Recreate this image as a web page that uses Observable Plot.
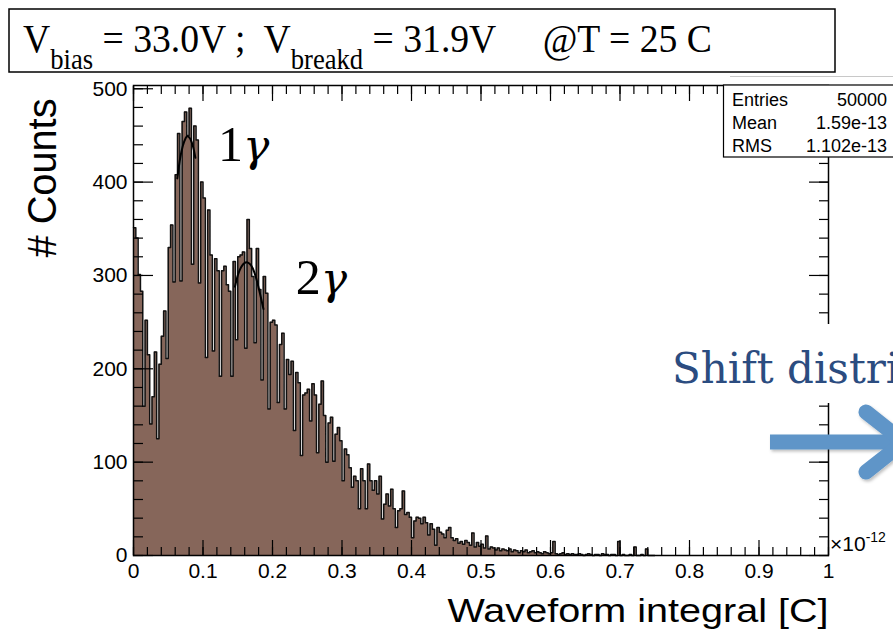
<!DOCTYPE html>
<html><head><meta charset="utf-8">
<script src="https://cdn.jsdelivr.net/npm/d3@7"></script>
<script src="https://cdn.jsdelivr.net/npm/@observablehq/plot@0.6"></script>
<style>
html,body{margin:0;padding:0;background:#fff;overflow:hidden}
#wrap{position:relative;width:893px;height:635px;overflow:hidden;background:#fff}
#wrap > svg{position:absolute;left:0;top:0}
</style></head>
<body><div id="wrap"></div>
<script>
// ---- data ----
const binWidth = 1 / 300; // x in units of 1e-12 C
const counts = [
351,340,301,283,160,252,215,141,170,218,125,205,235,262,211,330,354,293,408,452,
294,465,475,450,479,312,460,445,292,400,383,212,370,322,219,318,305,192,305,310,
290,283,192,315,231,320,322,325,222,360,329,299,228,329,285,188,299,281,157,250,
252,247,164,226,238,157,210,194,208,134,196,185,107,172,174,178,144,184,172,110,
162,187,150,100,142,148,101,130,137,123,80,114,108,94,73,85,80,50,93,80,
50,98,80,70,80,66,85,39,55,66,53,71,50,30,48,50,69,44,46,41,
19,37,41,40,34,41,35,22,34,28,11,30,25,23,19,27,30,19,16,18,
13,15,12,16,14,11,24,9,14,10,12,8,21,7,9,8,6,8,5,7,
6,5,7,4,6,5,3,5,4,6,3,4,5,3,4,3,2,4,3,2,
3,15,2,1,2,3,1,2,1,2,1,1,2,1,0,1,2,1,0,1,
1,0,2,1,1,0,1,1,0,15,0,1,0,0,1,0,9,0,0,1,
0,7,0,0,0
];
const fit1X = [0.063,0.067,0.071,0.075,0.078,0.082,0.086,0.089];
const fit1Y = [404,425,439,447,449,446,437,426];
const fit2X = [0.146,0.150,0.155,0.160,0.164,0.169,0.174,0.179,0.184,0.187];
const fit2Y = [288,300,309,313.5,314,311,303,290,274,264];
const peakNum = ["1","2"];
const peakX = [0.1215,0.2335];
const peakY = [423,280];
const xMajor = [0,0.1,0.2,0.3,0.4,0.5,0.6,0.7,0.8,0.9,1];
const xTickLabels = ["0","0.1","0.2","0.3","0.4","0.5","0.6","0.7","0.8","0.9","1"];
const yMajor = [0,100,200,300,400,500];
const yTickLabels = ["0","100","200","300","400","500"];
const statNames = ["Entries","Mean","RMS"];
const statValues = ["50000","1.59e-13","1.102e-13"];

// ---- build tables ----
const bins = counts.map((c, i) => ({x: i * binWidth, count: c}));
bins.push({x: counts.length * binWidth, count: counts[counts.length - 1]});
const fit1 = fit1X.map((x, i) => ({x, y: fit1Y[i]}));
const fit2 = fit2X.map((x, i) => ({x, y: fit2Y[i]}));
const peaks = peakNum.map((t, i) => ({text: t + "γ", x: peakX[i], y: peakY[i]}));
const xMinor = d3.range(0, 51).map(i => i / 50);
const yMinor = d3.range(0, 26).map(i => i * 20);

const FILL = "#86665a";
const axisTicks = (scale, vals, anchor, size) =>
  (scale === "x" ? Plot.axisX : Plot.axisY)(vals, {anchor, tickSize: -size, fill: "none", stroke: "black", strokeWidth: 1.2, label: null});

const chart = Plot.plot({
  width: 893, height: 635,
  marginLeft: 133, marginRight: 65, marginTop: 85, marginBottom: 80,
  x: {domain: [0, 1]},
  y: {domain: [0, 503.5]},
  style: {fontFamily: "Liberation Sans, Arial, sans-serif", background: "white", color: "black", overflow: "visible"},
  marks: [
    Plot.areaY(bins, {x: "x", y: "count", curve: "step-after", fill: FILL}),
    Plot.lineY(bins, {x: "x", y: "count", curve: "step-after", stroke: "#111", strokeWidth: 1.5}),
    Plot.line(fit1, {x: "x", y: "y", curve: "natural", stroke: "black", strokeWidth: 2}),
    Plot.line(fit2, {x: "x", y: "y", curve: "natural", stroke: "black", strokeWidth: 2}),
    Plot.text(peaks, {x: "x", y: "y", text: "text", textAnchor: "start", lineAnchor: "top", dy: -0.71 * 50,
      fontSize: 50, fontFamily: "Liberation Serif, serif", fill: "black"}),
    Plot.frame({stroke: "black", strokeWidth: 1.5}),
    axisTicks("y", yMajor, "left", 20),
    axisTicks("y", yMinor, "left", 10),
    axisTicks("y", yMajor, "right", 20),
    axisTicks("y", yMinor, "right", 10),
    axisTicks("x", xMajor, "bottom", 15),
    axisTicks("x", xMinor, "bottom", 8),
    axisTicks("x", xMajor, "top", 15),
    axisTicks("x", xMinor, "top", 8),
    Plot.axisY(yMajor, {anchor: "left", tickSize: 0, tickPadding: 6, fontSize: 21, label: null, fill: "black",
      tickFormat: d => yTickLabels[yMajor.indexOf(d)]}),
    Plot.axisX(xMajor, {anchor: "bottom", tickSize: 0, tickPadding: 8, fontSize: 21, label: null, fill: "black",
      tickFormat: d => xTickLabels[xMajor.indexOf(d)]}),
    Plot.text(["Waveform integral [C]"], {frameAnchor: "bottom-right", textAnchor: "end", lineAnchor: "top", dy: 43, fontSize: 33, fill: "black"}),
    Plot.text(["# Counts"], {frameAnchor: "top-left", rotate: -90, textAnchor: "end", lineAnchor: "middle", dx: -90, dy: 13, fontSize: 40, fill: "black"})
  ]
});

const wrap = document.getElementById("wrap");
wrap.appendChild(chart);

// fit axis-label lengths; italic gamma in peak labels
d3.select(chart).selectAll("text").each(function () {
  const s = this.textContent;
  const sel = d3.select(this);
  if (s === "Waveform integral [C]") sel.attr("textLength", 381).attr("lengthAdjust", "spacingAndGlyphs");
  if (s === "# Counts") sel.attr("textLength", 159).attr("lengthAdjust", "spacingAndGlyphs");
  if (s.length === 2 && s[1] === "γ") {
    sel.text(null);
    sel.append("tspan").text(s[0]);
    sel.append("tspan").attr("font-style", "italic").attr("font-family", "DejaVu Serif, serif").attr("font-size", 44).text("γ");
  }
});

// ---- overlay annotations (slide elements) ----
const ov = d3.select(wrap).append("svg").attr("width", 893).attr("height", 635)
  .style("pointer-events", "none");

// title box
ov.append("rect").attr("x", 9).attr("y", 9).attr("width", 826).attr("height", 63)
  .attr("fill", "white").attr("stroke", "black").attr("stroke-width", 1.5);
const t = ov.append("text").attr("x", 23).attr("y", 52)
  .attr("font-family", "Liberation Serif, Times New Roman, serif").attr("font-size", 41)
  .style("white-space", "pre").attr("fill", "black");
t.append("tspan").text("V");
t.append("tspan").attr("font-size", 29).attr("dy", 17).text("bias");
t.append("tspan").attr("dy", -17).text(" = 33.0V ;  V");
t.append("tspan").attr("font-size", 29).attr("dy", 17).text("breakd");
t.append("tspan").attr("dy", -17).text(" = 31.9V     @T = 25 C");
const tw = t.node().getBBox().width;
t.attr("transform", `translate(23,0) scale(${689 / tw},1) translate(-23,0)`);

// stats box
ov.append("line").attr("x1", 730).attr("x2", 893).attr("y1", 76.5).attr("y2", 76.5).attr("stroke", "#c8c8c8").attr("stroke-width", 1);
ov.append("rect").attr("x", 723.5).attr("y", 85).attr("width", 200).attr("height", 72)
  .attr("fill", "white").attr("stroke", "black").attr("stroke-width", 1.2);
statNames.forEach((n, i) => {
  const y = 106 + i * 22.8;
  ov.append("text").attr("x", 732).attr("y", y).attr("font-family", "Liberation Sans, Arial, sans-serif")
    .attr("font-size", 18).attr("fill", "black").text(n);
  ov.append("text").attr("x", 887).attr("y", y).attr("text-anchor", "end").attr("font-family", "Liberation Sans, Arial, sans-serif")
    .attr("font-size", 18).attr("fill", "black").text(statValues[i]);
});

// x10^-12
const e = ov.append("text").attr("x", 830).attr("y", 551).attr("font-family", "Liberation Sans, Arial, sans-serif")
  .attr("font-size", 21).attr("fill", "black");
e.append("tspan").text("×10");
e.append("tspan").attr("font-size", 14).attr("dy", -9).text("-12");

// "Shift distribution" with white backing
ov.append("rect").attr("x", 664).attr("y", 324).attr("width", 240).attr("height", 79).attr("fill", "white");
ov.append("text").attr("x", 672).attr("y", 383).attr("font-family", "DejaVu Serif, serif")
  .attr("font-size", 42).attr("fill", "#2b4c80").text("Shift distribution");

// arrow
const defs = ov.append("defs");
const f = defs.append("filter").attr("id", "sh").attr("x", "-20%").attr("y", "-20%").attr("width", "140%").attr("height", "140%");
f.append("feDropShadow").attr("dx", 1.5).attr("dy", 2).attr("stdDeviation", 1.5).attr("flood-color", "#000").attr("flood-opacity", 0.25);
const ag = ov.append("g").attr("filter", "url(#sh)");
ag.append("line").attr("x1", 770).attr("x2", 900).attr("y1", 442).attr("y2", 442)
  .attr("stroke", "#5f95c8").attr("stroke-width", 15);
ag.append("polyline").attr("points", "866,412 904,442 866,472").attr("fill", "none")
  .attr("stroke", "#5f95c8").attr("stroke-width", 15).attr("stroke-linecap", "round").attr("stroke-linejoin", "round");
</script></body></html>
